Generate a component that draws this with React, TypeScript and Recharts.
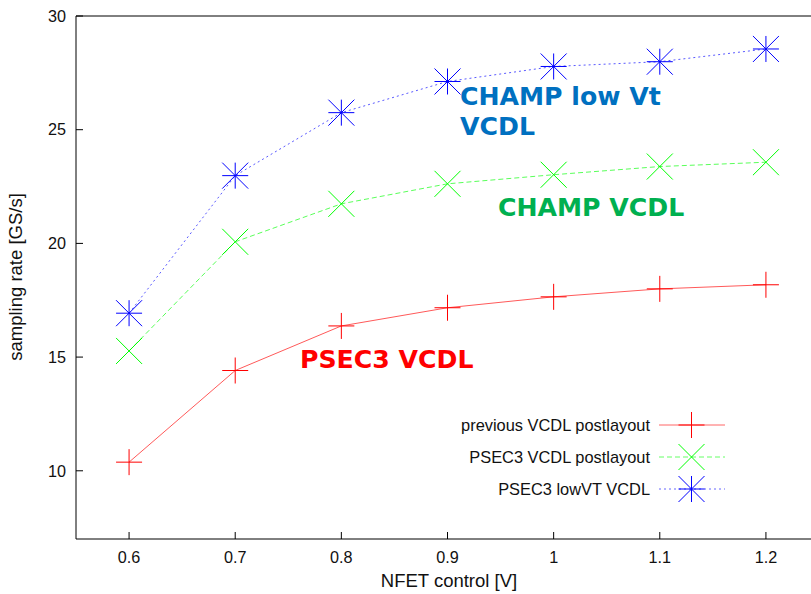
import React from 'react';
import { LineChart, Line, XAxis, YAxis, Legend } from 'recharts';

const xValues = [0.6, 0.7, 0.8, 0.9, 1.0, 1.1, 1.2];
const previousVcdl = [10.38, 14.41, 16.37, 17.17, 17.65, 18.0, 18.18];
const psec3Vcdl = [15.27, 20.07, 21.74, 22.62, 23.02, 23.38, 23.57];
const psec3LowVt = [16.93, 22.98, 25.75, 27.12, 27.78, 27.99, 28.55];

const xTicks = [0.6, 0.7, 0.8, 0.9, 1.0, 1.1, 1.2];
const yTicks = [10, 15, 20, 25, 30];

const seriesNames = ['previous VCDL postlayout', 'PSEC3 VCDL postlayout', 'PSEC3 lowVT VCDL'];
const seriesColors = ['#ff0000', '#00ff00', '#0000ff'];
const seriesDash = [undefined, '5 3', '2 3'];
const seriesMarkers = ['plus', 'cross', 'star'];

const annotations = [
  { lines: ['CHAMP low Vt', 'VCDL'], color: '#0070c0', x: 460, y: 105 },
  { lines: ['CHAMP VCDL'], color: '#00b050', x: 498, y: 216 },
  { lines: ['PSEC3 VCDL'], color: '#ff0000', x: 300, y: 368 },
];

const data = xValues.map((x, i) => ({
  x,
  prev: previousVcdl[i],
  psec3: psec3Vcdl[i],
  lowvt: psec3LowVt[i],
}));

const FONT = '"Liberation Sans", Arial, Helvetica, sans-serif';
const TEXT_COLOR = '#111';
const S = 13;

function Marker({ cx, cy, kind, color }: { cx: number; cy: number; kind: string; color: string }) {
  const parts: React.ReactNode[] = [];
  if (kind === 'plus' || kind === 'star') {
    parts.push(<line key="h" x1={cx - S} y1={cy} x2={cx + S} y2={cy} />);
    parts.push(<line key="v" x1={cx} y1={cy - S} x2={cx} y2={cy + S} />);
  }
  if (kind === 'cross' || kind === 'star') {
    parts.push(<line key="d1" x1={cx - S} y1={cy - S} x2={cx + S} y2={cy + S} />);
    parts.push(<line key="d2" x1={cx - S} y1={cy + S} x2={cx + S} y2={cy - S} />);
  }
  return (
    <g stroke={color} strokeWidth={1} fill="none">
      {parts}
    </g>
  );
}

function makeDot(kind: string, color: string) {
  return (props: any) => {
    const { cx, cy, index } = props;
    if (cx == null || cy == null) return <g key={`d-${index}`} />;
    return (
      <g key={`${kind}-${index}`}>
        <Marker cx={cx} cy={cy} kind={kind} color={color} />
      </g>
    );
  };
}

function LegendContent() {
  return (
    <svg width={300} height={100} style={{ overflow: 'visible' }}>
      {seriesNames.map((name, i) => {
        const cy = 16 + i * 32;
        return (
          <g key={name}>
            <text
              x={210}
              y={cy}
              textAnchor="end"
              dominantBaseline="central"
              fontFamily={FONT}
              fontSize={16.4}
              fill={TEXT_COLOR}
            >
              {name}
            </text>
            <line
              x1={219}
              y1={cy}
              x2={285}
              y2={cy}
              stroke={seriesColors[i]}
              strokeOpacity={0.6}
              strokeDasharray={seriesDash[i]}
              strokeWidth={1}
            />
            <Marker cx={251.5} cy={cy} kind={seriesMarkers[i]} color={seriesColors[i]} />
          </g>
        );
      })}
    </svg>
  );
}

export default function App() {
  const keys = ['prev', 'psec3', 'lowvt'];
  return (
    <div
      style={{
        position: 'fixed',
        left: 0,
        top: 0,
        width: 811,
        height: 594,
        overflow: 'hidden',
        background: '#fff',
      }}
    >
      <LineChart width={830} height={594} data={data} margin={{ top: 15, right: 11, bottom: 25, left: 16 }}>
        <XAxis
          dataKey="x"
          type="number"
          domain={[0.55, 1.25]}
          ticks={xTicks}
          allowDataOverflow
          height={30}
          tickSize={-7}
          tickMargin={19}
          axisLine={{ stroke: '#000', strokeWidth: 1 }}
          tickLine={{ stroke: '#000', strokeWidth: 1 }}
          tick={{ fill: TEXT_COLOR, fontSize: 16.2, fontFamily: FONT }}
        />
        <XAxis
          xAxisId="top"
          orientation="top"
          dataKey="x"
          type="number"
          domain={[0.55, 1.25]}
          ticks={xTicks}
          allowDataOverflow
          height={1}
          tickSize={-7}
          axisLine={{ stroke: '#000', strokeWidth: 1 }}
          tickLine={{ stroke: '#000', strokeWidth: 1 }}
          tick={false}
        />
        <YAxis
          type="number"
          domain={[7, 30]}
          ticks={yTicks}
          allowDataOverflow
          width={60}
          tickSize={-7}
          tickMargin={17}
          axisLine={{ stroke: '#000', strokeWidth: 1 }}
          tickLine={{ stroke: '#000', strokeWidth: 1 }}
          tick={{ fill: TEXT_COLOR, fontSize: 16.2, fontFamily: FONT }}
        />
        <Legend
          layout="vertical"
          align="center"
          verticalAlign="middle"
          wrapperStyle={{ left: 440, top: 409, width: 300, height: 100 }}
          content={() => <LegendContent />}
        />
        {keys.map((k, i) => (
          <Line
            key={k}
            dataKey={k}
            name={seriesNames[i]}
            type="linear"
            stroke={seriesColors[i]}
            strokeOpacity={0.65}
            strokeWidth={1}
            strokeDasharray={seriesDash[i]}
            dot={makeDot(seriesMarkers[i], seriesColors[i])}
            activeDot={false}
            isAnimationActive={false}
          />
        ))}
      </LineChart>
      <svg
        width={811}
        height={594}
        style={{ position: 'absolute', left: 0, top: 0, pointerEvents: 'none' }}
      >
        <text
          x={449}
          y={587}
          textAnchor="middle"
          fontFamily={FONT}
          fontSize={18.5}
          fill={TEXT_COLOR}
        >
          NFET control [V]
        </text>
        <text
          x={0}
          y={0}
          transform="translate(15,277) rotate(-90)"
          textAnchor="middle"
          dominantBaseline="central"
          fontFamily={FONT}
          fontSize={18.5}
          fill={TEXT_COLOR}
        >
          sampling rate [GS/s]
        </text>
        {annotations.map((a) => (
          <text
            key={a.lines[0]}
            fontFamily='"DejaVu Sans", Verdana, sans-serif'
            fontWeight="bold"
            fontSize={25.2}
            fill={a.color}
          >
            {a.lines.map((ln, j) => (
              <tspan key={ln} x={a.x} y={a.y + j * 30}>
                {ln}
              </tspan>
            ))}
          </text>
        ))}
      </svg>
    </div>
  );
}
